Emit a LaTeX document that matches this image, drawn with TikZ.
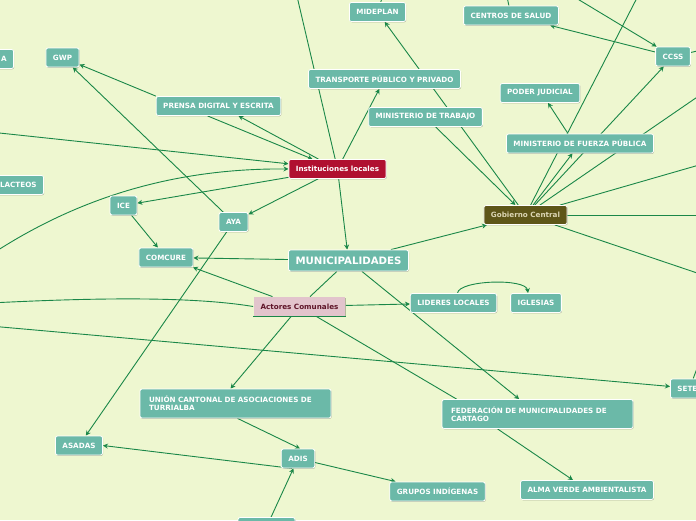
\documentclass[tikz,border=0pt]{standalone}
\usepackage{fontspec}
\setmainfont{DejaVu Sans}
\usetikzlibrary{arrows.meta,backgrounds,shadows}
\definecolor{Paper}{HTML}{EEF7D0}
\definecolor{Link}{HTML}{1A8748}
\definecolor{Topic}{HTML}{6BB9A8}
\definecolor{Local}{HTML}{B01030}
\definecolor{Olive}{HTML}{5E5618}
\definecolor{Sand}{HTML}{DCD6B4}
\definecolor{Blush}{HTML}{E2C4CC}
\definecolor{Wine}{HTML}{5E1428}
\tikzset{
  topic/.style={draw=white,line width=0.8pt,fill=Topic,rounded corners=2pt,text=white,
    font=\bfseries\fontsize{7.2}{8}\selectfont,minimum height=19pt,inner xsep=7pt,
    drop shadow={shadow xshift=0.6pt,shadow yshift=-0.8pt,fill=black,opacity=0.25}},
  twoline/.style={align=left,text width=173pt,inner xsep=9pt,minimum height=29pt},
  link/.style={Link,line width=0.9pt},
  arr/.style={link,-{Stealth[length=5pt,width=5pt]}},
}

\begin{document}
\begin{tikzpicture}[x=1pt,y=-1pt]
    \useasboundingbox (0,0) rectangle (696,520);
    \clip (0,0) rectangle (696,520);

    \node[topic,anchor=east,text width=26pt,align=right] (cortado) at (14,59) {A};
    \node[topic] (gwp) at (62.5,57.5) {GWP};
    \node[topic] (prensa) at (218.5,106) {PRENSA DIGITAL Y ESCRITA};
    \node[topic] (mideplan) at (377.5,12) {MIDEPLAN};
    \node[topic] (salud) at (511,15.5) {CENTROS DE SALUD};
    \node[topic] (ccss) at (673,56.5) {CCSS};
    \node[topic] (transporte) at (384.5,79) {TRANSPORTE PÚBLICO Y PRIVADO};
    \node[topic] (trabajo) at (425.5,117) {MINISTERIO DE TRABAJO};
    \node[topic] (judicial) at (540,93) {PODER JUDICIAL};
    \node[topic] (fuerza) at (580,143.5) {MINISTERIO DE FUERZA PÚBLICA};
    \node[topic,fill=Local] (locales) at (337.5,169) {Instituciones locales};
    \node[topic,anchor=east] (lacteos) at (44,185) {LACTEOS};
    \node[topic] (ice) at (123.5,205.5) {ICE};
    \node[topic] (aya) at (233.5,222) {AYA};
    \node[topic] (comcure) at (166,257.5) {COMCURE};
    \node[topic,font=\bfseries\fontsize{10.2}{12}\selectfont,minimum height=21pt] (muni) at (348.5,260.5) {MUNICIPALIDADES};
    \node[topic,fill=Olive,text=Sand] (gobierno) at (525.5,215) {Gobierno Central};
    \node[topic,fill=Blush,text=Wine,draw=none,rounded corners=0pt] (actores) at (299.5,306.5) {Actores Comunales};
    \draw[link] (actores.south west) -- (actores.south east);
    \node[topic] (lideres) at (453.5,303) {LIDERES LOCALES};
    \node[topic] (iglesias) at (536,303) {IGLESIAS};
    \node[topic,anchor=west] (setena) at (670,388.5) {SETENA};
    \node[topic,twoline] (union) at (235.5,403.5) {UNIÓN CANTONAL DE ASOCIACIONES DE\\TURRIALBA};
    \node[topic,twoline] (federacion) at (537.5,414) {FEDERACIÓN DE MUNICIPALIDADES DE\\CARTAGO};
    \node[topic] (asadas) at (79,445.5) {ASADAS};
    \node[topic] (adis) at (298,458.5) {ADIS};
    \node[topic] (indigenas) at (437.5,491.5) {GRUPOS INDÍGENAS};
    \node[topic] (almaverde) at (587,490) {ALMA VERDE AMBIENTALISTA};
    \node[topic,minimum width=57pt] (abajo) at (266.5,527) {};

    % ends that leave the page
    \coordinate (top1) at (296,-8);
    \coordinate (top2) at (640,-8);
    \coordinate (top3) at (566,-8);
    \coordinate (top4) at (506,-8);
    \coordinate (top5) at (384,-8);
    \coordinate (left1) at (-10,132);
    \coordinate (left2) at (-20,262);
    \coordinate (left3) at (-10,303);
    \coordinate (left4) at (-10,326);
    \coordinate (right1) at (706,91);
    \coordinate (right2) at (706,163);
    \coordinate (right3) at (706,215);
    \coordinate (right4) at (706,276);
    \coordinate (right5) at (706,49);
    \coordinate (right6) at (702,355);

    \begin{scope}[on background layer]
      \clip (0,0) rectangle (696,520);
      \fill[Paper] (0,0) rectangle (696,520);
      \draw[arr] (prensa.north west) -- (gwp);
      \draw[arr] (aya) -- (gwp);
      \draw[arr] ([xshift=-19]locales.north) -- ([xshift=20]prensa.south);
      \draw[arr] ([xshift=-11]prensa.south) -- ([xshift=-25]locales.north);
      \draw[arr] (left1) -- (locales);
      \draw[arr] (left2) .. controls (70,200) and (170,168) .. (locales.west);
      \draw[arr] (locales) -- (ice);
      \draw[arr] (locales) -- (aya);
      \draw[arr] (locales) -- (muni);
      \draw[arr] (locales) -- (transporte);
      \draw[arr] (locales) -- (top1);
      \draw[arr] (gobierno) -- (mideplan);
      \draw[arr] (trabajo) -- (gobierno);
      \draw[arr] ([xshift=-12]fuerza.north) -- ([xshift=8]judicial.south);
      \draw[arr] (gobierno) -- (fuerza);
      \draw[arr] (gobierno) -- (ccss);
      \draw[arr] (gobierno) -- (top2);
      \draw[arr] (gobierno) -- (right1);
      \draw[arr] (gobierno) -- (right2);
      \draw[arr] (gobierno) -- (right3);
      \draw[arr] (gobierno) -- (right4);
      \draw[arr] (muni) -- (gobierno);
      \draw[arr] (ccss) -- (salud);
      \draw[arr] (top3) -- (ccss);
      \draw[arr] (ccss) -- (right5);
      \draw[arr] (salud) -- (top4);
      \draw[arr] (mideplan) -- (top5);
      \draw[arr] (muni) -- (comcure);
      \draw[arr] (actores) -- (comcure);
      \draw[arr] (ice) -- (comcure);
      \draw[arr] (aya) -- (asadas);
      \draw[link] (muni) -- (actores);
      \draw[arr] (actores.west) .. controls (190,296) and (90,298) .. (left3);
      \draw[arr] (left4) -- (setena);
      \draw[arr] (setena.north) -- (right6);
      \draw[arr] (actores) -- (lideres);
      \draw[arr] ([xshift=4]lideres.north) .. controls (459,280) and (526,278) .. ([xshift=-8]iglesias.north);
      \draw[link] (actores) -- ([xshift=15]federacion.north west);
      \draw[arr] (muni) -- (federacion);
      \draw[arr] ([xshift=-40]federacion.south) -- ([xshift=-14]almaverde.north);
      \draw[arr] (actores) -- ([xshift=-5]union.north);
      \draw[arr] ([xshift=2]union.south) -- ([xshift=2]adis.north);
      \draw[arr] ([xshift=-6]adis.south) -- (asadas.east);
      \draw[arr] (abajo) -- (adis);
      \draw[arr] (adis) -- (indigenas);
    \end{scope}
\end{tikzpicture}
\end{document}
